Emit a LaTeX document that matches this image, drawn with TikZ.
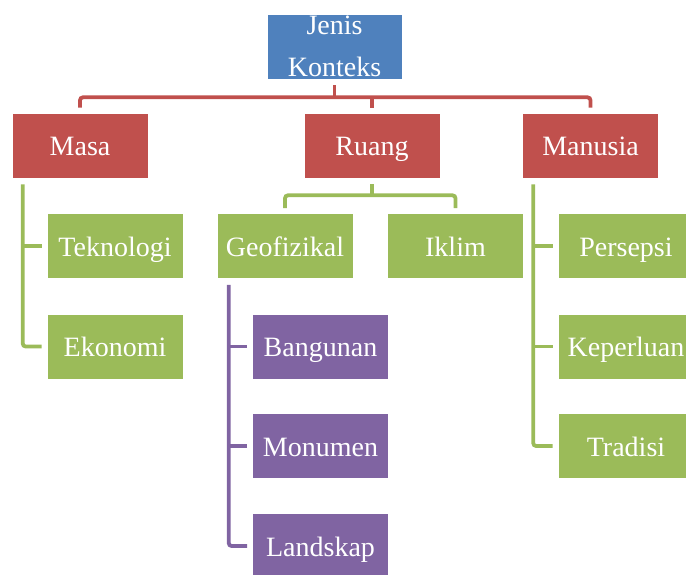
\documentclass[tikz,border=0pt]{standalone}
\usepackage{fontspec}
\setmainfont{Liberation Serif}
\definecolor{kblue}{HTML}{4F81BD}
\definecolor{kred}{HTML}{C0504D}
\definecolor{kgreen}{HTML}{9BBB59}
\definecolor{kpurple}{HTML}{8064A2}
\begin{document}
\begin{tikzpicture}[x=1pt,y=-1pt]
        \tikzstyle{box}=[rectangle, draw=white, line width=0.6pt, text=white, inner sep=0pt,
          minimum width=136pt, minimum height=65pt, text height=20pt, text depth=0pt,
          font=\fontsize{28pt}{34pt}\selectfont]
        \tikzstyle{link}=[line width=3.8pt, rounded corners=3pt]
        \useasboundingbox (0,0) rectangle (686,574);
        \node [box, fill=kblue, text height=, text depth=, minimum width=135pt, align=center,
          font=\fontsize{28pt}{42pt}\selectfont] (jenis) at (334.5,46.5) {Jenis\\Konteks};
        \node [box, fill=kred] (masa) at (80,145.5) {Masa};
        \node [box, fill=kred] (ruang) at (372,145.5) {Ruang};
        \node [box, fill=kred] (manusia) at (590.5,145.5) {Manusia};
        \node [box, fill=kgreen] (tekno) at (115,246) {Teknologi};
        \node [box, fill=kgreen] (ekonomi) at (115,346.5) {Ekonomi};
        \node [box, fill=kgreen] (geo) at (285,246) {Geofizikal};
        \node [box, fill=kgreen] (iklim) at (455.5,246) {Iklim};
        \node [box, fill=kpurple] (bangunan) at (320.5,346.5) {Bangunan};
        \node [box, fill=kpurple] (monumen) at (320.5,446) {Monumen};
        \node [box, fill=kpurple] (landskap) at (320.5,546) {Landskap};
        \node [box, fill=kgreen] (persepsi) at (626,246) {Persepsi};
        \node [box, fill=kgreen] (keperluan) at (626,346.5) {Keperluan};
        \node [box, fill=kgreen] (tradisi) at (626,446) {Tradisi};
        \coordinate (jbus) at ([yshift=-18pt]jenis.south);
        \coordinate (rbus) at ([yshift=-17pt]ruang.south);
        \coordinate (masaline) at ([xshift=11pt,yshift=-6pt]masa.south west);
        \coordinate (geoline) at ([xshift=12pt,yshift=-6pt]geo.south west);
        \coordinate (manline) at ([xshift=11pt,yshift=-6pt]manusia.south west);
        \draw [link, kred] ([yshift=-6pt]jenis.south) -- (jbus);
        \draw [link, kred] ([yshift=5pt]masa.north) |- (jbus) -| ([yshift=5pt]manusia.north);
        \draw [link, kred] ([yshift=5pt]ruang.north) -- (ruang.north |- jbus);
        \draw [link, kgreen] ([yshift=-6pt]ruang.south) -- (rbus);
        \draw [link, kgreen] ([yshift=5pt]geo.north) |- (rbus) -| ([yshift=5pt]iklim.north);
        \draw [link, kgreen] (masaline) |- ([xshift=-5pt]ekonomi.west);
        \draw [link, kgreen] ([xshift=-5pt]tekno.west) -- (tekno.west -| masaline);
        \draw [link, kpurple] (geoline) |- ([xshift=-5pt]landskap.west);
        \draw [link, kpurple] ([xshift=-5pt]bangunan.west) -- (bangunan.west -| geoline);
        \draw [link, kpurple] ([xshift=-5pt]monumen.west) -- (monumen.west -| geoline);
        \draw [link, kgreen] (manline) |- ([xshift=-5pt]tradisi.west);
        \draw [link, kgreen] ([xshift=-5pt]persepsi.west) -- (persepsi.west -| manline);
        \draw [link, kgreen] ([xshift=-5pt]keperluan.west) -- (keperluan.west -| manline);
\end{tikzpicture}
\end{document}
